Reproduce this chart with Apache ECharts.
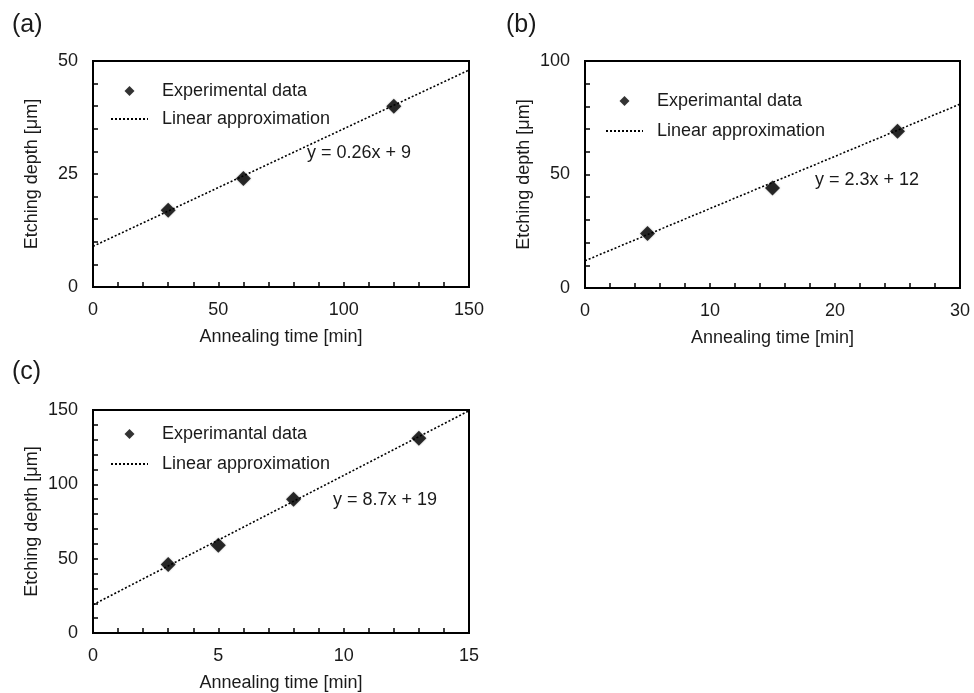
<!DOCTYPE html>
<html lang="en">
<head>
  <meta charset="utf-8">
  <title>Etching depth vs annealing time</title>
  <script src="https://cdn.jsdelivr.net/npm/echarts@6/dist/echarts.min.js"></script>
  <style>
    html, body { margin: 0; padding: 0; background: #fff; }
    #chart { width: 974px; height: 693px; }
  </style>
</head>
<body>
<div id="chart"></div>
<script>
  // measured points (x = annealing time [min], y = etching depth [um])
  const pointsA = [[30, 17], [60, 24], [120, 40]];
  const pointsB = [[5, 24], [15, 44], [25, 69]];
  const pointsC = [[3, 46], [5, 59], [8, 90], [13, 131]];

  // fitted line end points
  const fitA = [[0, 9], [150, 48]];
  const fitB = [[0, 12], [30, 81]];
  const fitC = [[0, 19], [15, 149.5]];

  const panelLabels = ['(a)', '(b)', '(c)'];
  const equations = ['y = 0.26x + 9', 'y = 2.3x + 12', 'y = 8.7x + 19'];
  const dataNames = ['Experimental data', 'Experimantal data', 'Experimantal data'];
  const fitName = 'Linear approximation';

  const xMax = [150, 30, 15];
  const xStep = [50, 10, 5];
  const yMax = [50, 100, 150];
  const yStep = [25, 50, 50];

  const font = 'Liberation Sans, Arial, sans-serif';
  const ink = '#1a1a1a';
  const diamond = 'path://M0,-1L1,0L0,1L-1,0Z';

  const grids = [
    { left: 93, top: 61, width: 376, height: 226 },
    { left: 585, top: 61, width: 375, height: 227 },
    { left: 93, top: 410, width: 376, height: 226 }
  ];

  function xAxis(i) {
    return {
      type: 'value', gridIndex: i, min: 0, max: xMax[i], interval: xStep[i],
      name: 'Annealing time [min]', nameLocation: 'middle', nameGap: 41,
      nameTextStyle: { fontFamily: font, fontSize: 18, color: ink },
      axisLine: { show: true, lineStyle: { color: '#000', width: 2 } },
      axisTick: { show: true, inside: true, length: 5, lineStyle: { color: '#000', width: 1.5 } },
      minorTick: { show: true, splitNumber: 5, length: 5, lineStyle: { color: '#000', width: 1.5 } },
      axisLabel: { fontFamily: font, fontSize: 18, color: ink, margin: 14 },
      splitLine: { show: false }
    };
  }

  function yAxis(i) {
    return {
      type: 'value', gridIndex: i, min: 0, max: yMax[i], interval: yStep[i],
      name: 'Etching depth [μm]', nameLocation: 'middle', nameGap: 52,
      nameTextStyle: { fontFamily: font, fontSize: 18, color: ink },
      axisLine: { show: true, lineStyle: { color: '#000', width: 2 } },
      axisTick: { show: true, inside: true, length: 5, lineStyle: { color: '#000', width: 1.5 } },
      minorTick: { show: true, splitNumber: 5, length: 5, lineStyle: { color: '#000', width: 1.5 } },
      axisLabel: { fontFamily: font, fontSize: 18, color: ink, margin: 15 },
      splitLine: { show: false }
    };
  }

  const points = [pointsA, pointsB, pointsC];
  const fits = [fitA, fitB, fitC];
  const series = [];
  for (let i = 0; i < 3; i++) {
    series.push({
      name: dataNames[i], type: 'scatter', xAxisIndex: i, yAxisIndex: i,
      symbol: 'diamond', symbolSize: 15, z: 3,
      itemStyle: { color: '#000', shadowColor: 'rgba(0,0,0,0.35)', shadowBlur: 2 },
      data: points[i]
    });
    series.push({
      name: fitName, type: 'line', xAxisIndex: i, yAxisIndex: i,
      symbol: 'none', z: 2, silent: true,
      itemStyle: { color: 'rgba(0,0,0,0)' },
      lineStyle: { color: '#000', width: 1.6, type: [2, 2] },
      data: fits[i]
    });
  }

  const legendPos = [
    { left: 110, top: 82, gap: 10 },
    { left: 605, top: 92, gap: 12 },
    { left: 110, top: 425, gap: 12 }
  ];
  const legends = legendPos.map((p, i) => ({
    left: p.left, top: p.top, orient: 'vertical', padding: 0,
    itemWidth: 37, itemHeight: 10, itemGap: p.gap,
    symbolKeepAspect: true,
    selectedMode: false,
    textStyle: { fontFamily: font, fontSize: 18, color: ink, padding: [0, 0, 0, 9] },
    data: [
      { name: dataNames[i], icon: diamond, itemStyle: { color: '#000' } },
      { name: fitName, itemStyle: { color: 'rgba(0,0,0,0)', opacity: 0 } }
    ]
  }));

  const eqPos = [[307, 154], [815, 181], [333, 501]];
  const labelPos = [[12, 27], [506, 27], [12, 374]];
  const graphic = [];
  for (let i = 0; i < 3; i++) {
    graphic.push({
      type: 'text', left: eqPos[i][0], top: eqPos[i][1] - 10,
      style: { text: equations[i], font: '18px ' + font, fill: ink }
    });
    graphic.push({
      type: 'text', left: labelPos[i][0], top: labelPos[i][1] - 14,
      style: { text: panelLabels[i], font: '25px ' + font, fill: ink }
    });
  }

  const chart = echarts.init(document.getElementById('chart'));
  chart.setOption({
    backgroundColor: '#fff',
    animation: false,
    grid: grids.map(g => Object.assign({ show: true, borderColor: '#000', borderWidth: 2, backgroundColor: 'transparent' }, g)),
    xAxis: [0, 1, 2].map(xAxis),
    yAxis: [0, 1, 2].map(yAxis),
    legend: legends,
    graphic: graphic,
    series: series
  });
</script>
</body>
</html>
